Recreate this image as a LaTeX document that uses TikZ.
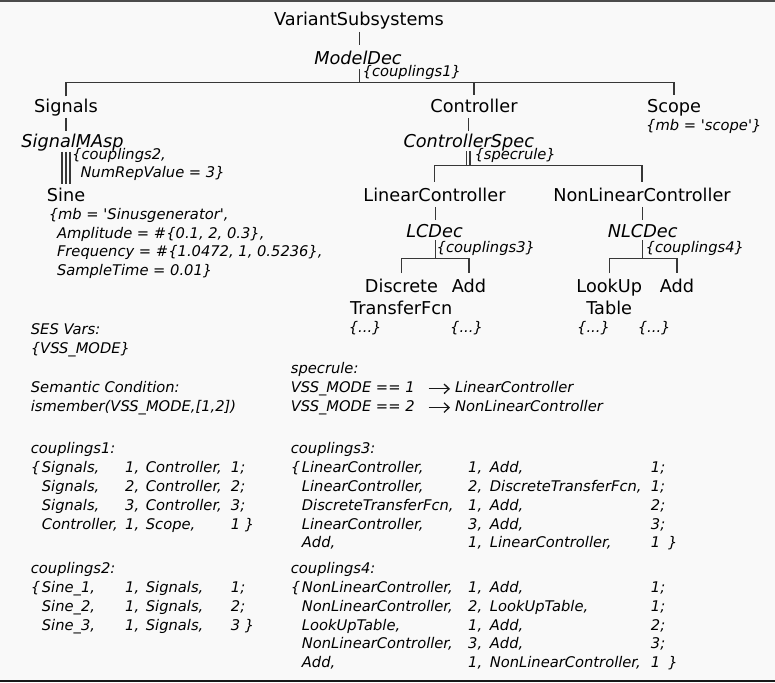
\documentclass[tikz,border=0pt]{standalone}
\usepackage{fontspec}
\setmainfont{DejaVu Sans}
\usetikzlibrary{calc,arrows.meta}
\definecolor{bgc}{RGB}{249,249,249}
\definecolor{lnc}{RGB}{55,55,55}
\newcommand\bigf{\fontsize{17.7pt}{21pt}\selectfont}
\newcommand\smallf{\fontsize{14.7pt}{18pt}\selectfont\itshape}
\newlength\cwA \newlength\cwB \newlength\cwC \newlength\cwD
\newcommand\cplrow[5]{\makebox[\cwA][l]{#1}\makebox[\cwB][l]{#2}\makebox[\cwC][l]{#3}\makebox[\cwD][l]{#4}#5}
\newcommand\q{\textquotesingle}
\tikzset{
  big/.style={font=\bigf, inner sep=0pt, anchor=base, text height=13.4pt, text depth=4.2pt},
  bigit/.style={big, font=\bigf\itshape},
  sml/.style={font=\smallf, inner sep=0pt, anchor=base west},
  tl/.style={draw=lnc, line width=1.1pt},
  rulearrow/.style={draw=black!90, line width=1.3pt, -{Straight Barb[length=5pt,width=9.5pt]}},
}
\begin{document}
\begin{tikzpicture}[x=1pt,y=-1pt]
\fill[bgc] (0,0) rectangle (775,682);
\useasboundingbox (0,0) rectangle (775,682);
\draw[line width=1.6pt, draw=black!70] (0,0.8) -- (775,0.8);
\draw[line width=2pt, draw=black!90] (0,681) -- (775,681);

% ---------- tree nodes ----------
\node[big] (vs) at (359,25.5) {VariantSubsystems};
\node[bigit] (md) at (358,64.3) {ModelDec};
\node[sml] (c1) at (362.5,76.5) {\{couplings1\}};
\coordinate (b1) at (359.5,82.5);
\node[big] (sig) at (66,113) {Signals};
\node[big] (ctrl) at (474,113) {Controller};
\node[big] (scope) at (674,113) {Scope};
\node[sml] (scattr) at (646,130) {\{mb = \q scope\q\}};
\node[bigit] (sma) at (72.5,147.5) {SignalMAsp};
\node[sml] (c2a) at (72,159.5) {\{couplings2,};
\node[sml] (c2b) at (80.3,177.5) {NumRepValue = 3\}};
\node[big] (sine) at (66,201.7) {Sine};
\node[sml] (sa1) at (48.6,219.5) {\{mb = \q Sinusgenerator\q,};
\node[sml] (sa2) at (56.8,238) {Amplitude = \#\{0.1, 2, 0.3\},};
\node[sml] (sa3) at (56.8,256.5) {Frequency = \#\{1.0472, 1, 0.5236\},};
\node[sml] (sa4) at (56.8,275) {SampleTime = 0.01\}};

\node[bigit] (cs) at (468.8,147) {ControllerSpec};
\node[sml] (spr) at (474.3,159.5) {\{specrule\}};
\coordinate (b2) at (468.3,165.5);
\node[big] (lc) at (434.5,201.5) {LinearController};
\node[big] (nlc) at (642,201.5) {NonLinearController};
\node[bigit] (lcd) at (434.5,237.3) {LCDec};
\node[sml] (c3) at (436.5,252) {\{couplings3\}};
\node[bigit] (nlcd) at (642.7,237.3) {NLCDec};
\node[sml] (c4) at (645.5,252) {\{couplings4\}};
\coordinate (b3) at (435.3,258.5);
\coordinate (b4) at (642.7,258.5);
\node[big] (dsc) at (401.5,292) {Discrete};
\node[big] (tfc) at (401.2,314) {TransferFcn};
\node[big] (add1) at (469,292) {Add};
\node[big] (lku) at (609.3,292) {LookUp};
\node[big] (tbl) at (609.2,314) {Table};
\node[big] (add2) at (677,292) {Add};
\node[sml] (e1) at (348.6,332) {\{...\}};
\node[sml] (e2) at (450,332) {\{...\}};
\node[sml] (e3) at (577,332) {\{...\}};
\node[sml] (e4) at (637.6,332) {\{...\}};

% ---------- tree connectors ----------
\draw[tl] ($(vs.south)+(0.5,2)$) -- ($(vs.south |- md.north)+(0.5,-6)$);
\draw[tl] ($(b1 |- md.south)+(0,0.5)$) -- (b1);
\draw[tl] ($(sig.north)+(0,-3)$) -- (sig.north |- b1) -- (scope.north |- b1) -- ($(scope.north)+(0,-4.5)$);
\draw[tl] (ctrl.north |- b1) -- ($(ctrl.north)+(0,-4.5)$);
\draw[tl] ($(sig.south)+(0,0.5)$) -- ($(sig.south |- sma.north)+(0,-2.5)$);
\foreach \dx in {-4,0,4}
  \draw[tl] ($(sine.north |- sma.south)+(\dx,0)$) -- ($(sine.north)+(\dx,-4.3)$);
\draw[tl] ($(cs.north |- ctrl.south)+(-0.5,1)$) -- ($(cs.north)+(-0.5,-2)$);
\foreach \dx in {-1.7,1.7}
  \draw[tl] ($(b2 |- cs.south)+(\dx,0)$) -- ($(b2)+(\dx,0)$);
\draw[tl] ($(lc.north)+(0,-6.4)$) -- (lc.north |- b2) -- (nlc.north |- b2) -- ($(nlc.north)+(0,-6.4)$);
\draw[tl] ($(b3 |- lc.south)+(0,1)$) -- ($(b3 |- lcd.north)+(0,-3.9)$);
\draw[tl] ($(b3 |- lcd.south)+(0,-1.5)$) -- (b3);
\draw[tl] ($(dsc.north)+(0,-5.3)$) -- (dsc.north |- b3) -- (add1.north |- b3) -- ($(add1.north)+(0,-5.3)$);
\draw[tl] ($(b4 |- nlc.south)+(0,1)$) -- ($(b4 |- nlcd.north)+(0,-3.9)$);
\draw[tl] ($(b4 |- nlcd.south)+(0,-1.5)$) -- (b4);
\draw[tl] ($(lku.north)+(0,-5.3)$) -- (lku.north |- b4) -- (add2.north |- b4) -- ($(add2.north)+(0,-5.3)$);

% ---------- left text block ----------
\node[sml] (sv1) at (30.7,334.3) {SES Vars:};
\node[sml] (sv2) at (30.7,353.3) {\{VSS\_MODE\}};
\node[sml] (sc1) at (30.7,392.8) {Semantic Condition:};
\node[sml] (sc2) at (30.7,411.6) {ismember(VSS\_MODE,[1,2])};

\setlength\cwA{11pt}\setlength\cwB{83.3pt}\setlength\cwC{20.7pt}\setlength\cwD{85pt}
\node[sml] (k1t) at (30.7,453.8) {couplings1:};
\node[sml] (k1a) at (30.7,472.6) {\cplrow{\{}{Signals,}{1,}{Controller,}{1;}};
\node[sml] (k1b) at (30.7,491.4) {\cplrow{}{Signals,}{2,}{Controller,}{2;}};
\node[sml] (k1c) at (30.7,510.2) {\cplrow{}{Signals,}{3,}{Controller,}{3;}};
\node[sml] (k1d) at (30.7,529.0) {\cplrow{}{Controller,}{1,}{Scope,}{1 \}}};

\node[sml] (k2t) at (30.7,573.7) {couplings2:};
\node[sml] (k2a) at (30.7,592.5) {\cplrow{\{}{Sine\_1,}{1,}{Signals,}{1;}};
\node[sml] (k2b) at (30.7,611.3) {\cplrow{}{Sine\_2,}{1,}{Signals,}{2;}};
\node[sml] (k2c) at (30.7,630.1) {\cplrow{}{Sine\_3,}{1,}{Signals,}{3 \}}};

% ---------- right text block ----------
\node[sml] (spt) at (290.7,373.3) {specrule:};
\node[sml] (sp1l) at (290.7,392.8) {VSS\_MODE == 1};
\node[sml] (sp1r) at (455,392.8) {LinearController};
\node[sml] (sp2l) at (290.7,411.6) {VSS\_MODE == 2};
\node[sml] (sp2r) at (455,411.6) {NonLinearController};
\coordinate (a1s) at (428.5,388.8);
\coordinate (a1e) at (450,388.8);
\coordinate (a2s) at (428.5,407.6);
\coordinate (a2e) at (450,407.6);
\draw[rulearrow] (a1s) -- (a1e);
\draw[rulearrow] (a2s) -- (a2e);

\setlength\cwA{11pt}\setlength\cwB{166.3pt}\setlength\cwC{21.7pt}\setlength\cwD{161pt}
\node[sml] (k3t) at (290.7,453.8) {couplings3:};
\node[sml] (k3a) at (290.7,472.6) {\cplrow{\{}{LinearController,}{1,}{Add,}{1;}};
\node[sml] (k3b) at (290.7,491.4) {\cplrow{}{LinearController,}{2,}{DiscreteTransferFcn,}{1;}};
\node[sml] (k3c) at (290.7,510.2) {\cplrow{}{DiscreteTransferFcn,}{1,}{Add,}{2;}};
\node[sml] (k3d) at (290.7,529.0) {\cplrow{}{LinearController,}{3,}{Add,}{3;}};
\node[sml] (k3e) at (290.7,547.8) {\cplrow{}{Add,}{1,}{LinearController,}{1\hspace{8pt}\}}};

\node[sml] (k4t) at (290.7,573.7) {couplings4:};
\node[sml] (k4a) at (290.7,592.5) {\cplrow{\{}{NonLinearController,}{1,}{Add,}{1;}};
\node[sml] (k4b) at (290.7,611.3) {\cplrow{}{NonLinearController,}{2,}{LookUpTable,}{1;}};
\node[sml] (k4c) at (290.7,630.1) {\cplrow{}{LookUpTable,}{1,}{Add,}{2;}};
\node[sml] (k4d) at (290.7,648.9) {\cplrow{}{NonLinearController,}{3,}{Add,}{3;}};
\node[sml] (k4e) at (290.7,667.7) {\cplrow{}{Add,}{1,}{NonLinearController,}{1\hspace{8pt}\}}};
\end{tikzpicture}
\end{document}
